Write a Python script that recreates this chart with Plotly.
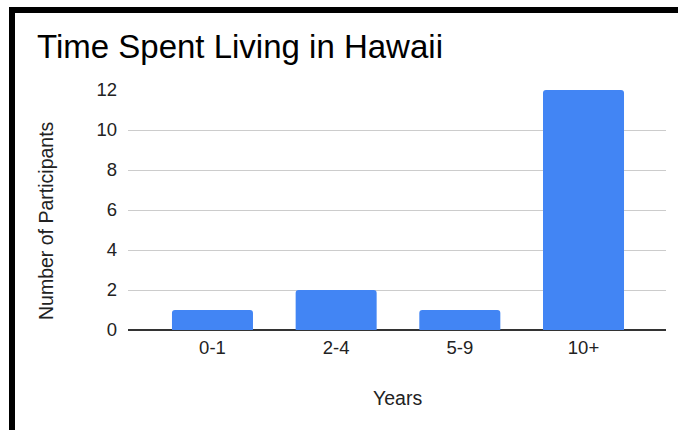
import plotly.graph_objects as go

categories = ["0-1", "2-4", "5-9", "10+"]
participants = [1, 2, 1, 12]
y_ticks = [0, 2, 4, 6, 8, 10, 12]

W, H = 678, 430
L, R, T, B = 128, 12, 90, 100
pw, ph = W - L - R, H - T - B


def px_x(p):
    return (p - L) / pw


def px_y(p):
    return (H - B - p) / ph


FONT = "Liberation Sans, Arial, sans-serif"

fig = go.Figure(
    go.Bar(
        x=categories,
        y=participants,
        marker=dict(color="#4285F4", line=dict(width=0)),
        width=0.655,
    )
)

shapes = [
    # black frame strips along the top and left edge
    dict(type="rect", xref="paper", yref="paper",
         x0=px_x(9), x1=px_x(W + 5), y0=px_y(13), y1=px_y(7),
         fillcolor="black", line=dict(width=0), layer="above"),
    dict(type="rect", xref="paper", yref="paper",
         x0=px_x(9), x1=px_x(15), y0=px_y(H + 5), y1=px_y(7),
         fillcolor="black", line=dict(width=0), layer="above"),
]

annotations = [
    dict(text="Time Spent Living in Hawaii", xref="paper", yref="paper",
         x=px_x(35), y=px_y(47), xanchor="left", yanchor="middle",
         showarrow=False, font=dict(family=FONT, size=33, color="#000")),
    dict(text="Number of Participants", xref="paper", yref="paper",
         x=px_x(46), y=px_y(221), xanchor="center", yanchor="middle",
         textangle=-90, showarrow=False,
         font=dict(family=FONT, size=19.5, color="#222")),
    dict(text="Years", xref="paper", yref="paper",
         x=px_x(397), y=px_y(398), xanchor="center", yanchor="middle",
         showarrow=False, font=dict(family=FONT, size=19.5, color="#222")),
]

fig.update_layout(
    width=W, height=H,
    margin=dict(l=L, r=R, t=T, b=B),
    paper_bgcolor="white", plot_bgcolor="white",
    showlegend=False,
    barcornerradius=3,
    font=dict(family=FONT, size=18.5, color="#222"),
    shapes=shapes,
    annotations=annotations,
    xaxis=dict(range=[-0.683, 3.667], showgrid=False, showline=False,
               ticks="", ticklabelstandoff=4,
               tickfont=dict(size=18.5, color="#222"), fixedrange=True),
    yaxis=dict(range=[0, 12], tickvals=y_ticks, showgrid=True,
               gridcolor="#cccccc", gridwidth=1,
               zeroline=True, zerolinecolor="#333333", zerolinewidth=1.5,
               showline=False, ticks="", ticklabelstandoff=10,
               tickfont=dict(size=18.5, color="#222")),
)

fig.write_html("out.html")
